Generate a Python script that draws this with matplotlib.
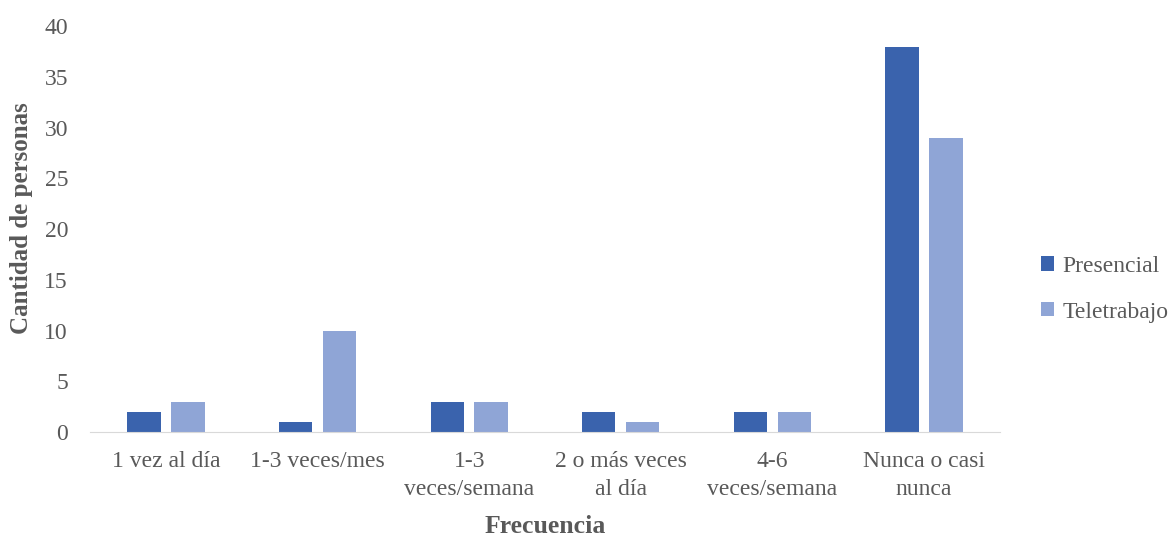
import numpy as np
import matplotlib.pyplot as plt

plt.rcParams['font.family'] = ['Liberation Serif', 'DejaVu Serif']

categorias = ['1 vez al día', '1-3 veces/mes', '1-3\nveces/semana',
              '2 o más veces\nal día', '4-6\nveces/semana', 'Nunca o casi\nnunca']
presencial = [2, 1, 3, 2, 2, 38]
teletrabajo = [3, 10, 3, 1, 2, 29]

gris = '#595959'
x = np.arange(len(categorias))
w = 0.22
off = 0.145

fig = plt.figure(figsize=(11.72, 5.36), dpi=100)
ax = fig.add_axes([0.077, 0.194, 0.776, 0.757])

ax.bar(x - off, presencial, w, color='#3A63AD', label='Presencial')
ax.bar(x + off, teletrabajo, w, color='#8FA5D6', label='Teletrabajo')

ax.set_xlim(-0.5, len(categorias) - 0.5)
ax.set_ylim(0, 40)
ax.set_yticks(range(0, 45, 5))
ax.set_xticks(x)
ax.set_xticklabels(categorias, linespacing=1.4)
ax.tick_params(length=0, labelsize=17, colors=gris, pad=14)
ax.tick_params(axis='y', pad=16)

for s in ['top', 'right', 'left']:
    ax.spines[s].set_visible(False)
ax.spines['bottom'].set_color('#D9D9D9')

ax.set_ylabel('Cantidad de personas', fontsize=18, fontweight='bold', color=gris)
ax.yaxis.set_label_coords(-0.063, 0.527)
ax.set_xlabel('Frecuencia', fontsize=18.5, fontweight='bold', color=gris, labelpad=11)

leg = ax.legend(loc='center left', bbox_to_anchor=(1.0355, 0.352), frameon=False,
                fontsize=17, handlelength=0.55, handleheight=0.55, handletextpad=0.35,
                labelspacing=1.05, borderaxespad=0)
for t in leg.get_texts():
    t.set_color(gris)

fig.savefig('out.png', dpi=100)
